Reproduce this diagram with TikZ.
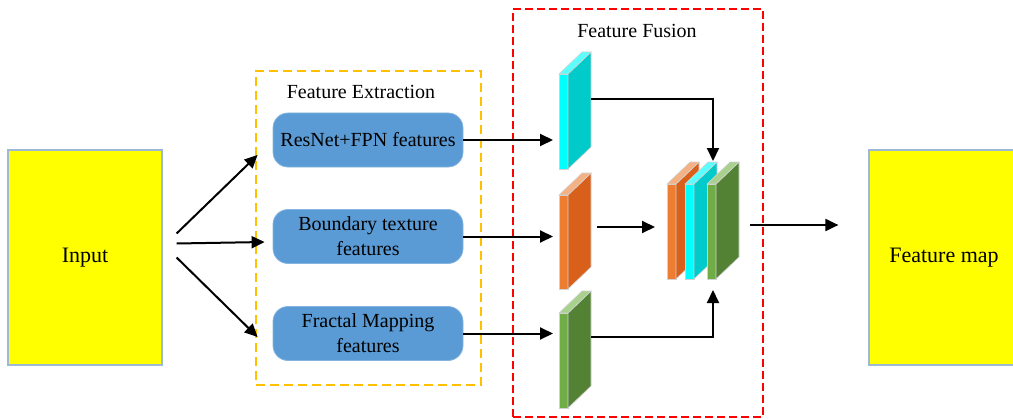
\documentclass[tikz,border=0pt]{standalone}
\usepackage{fontspec}
\setmainfont{Liberation Serif}
\usetikzlibrary{arrows.meta,calc}
\definecolor{boxblue}{HTML}{5B9BD5}
\definecolor{yel}{HTML}{FFFF00}
\definecolor{yelborder}{HTML}{9DB9D5}
\definecolor{feorange}{HTML}{FFC000}
\definecolor{cyanF}{HTML}{00FFFF}
\definecolor{cyanS}{HTML}{00CACA}
\definecolor{cyanT}{HTML}{5CFFFF}
\definecolor{orF}{HTML}{ED7D31}
\definecolor{orS}{HTML}{D9601A}
\definecolor{orT}{HTML}{F4B183}
\definecolor{grF}{HTML}{70AD47}
\definecolor{grS}{HTML}{548235}
\definecolor{grT}{HTML}{A9D18E}
\newcommand{\slab}[7]{%
  \node[slabf, fill=#5, minimum height=#4] (#1) at ({#2+4.5},{#3+#4/2}) {};
  \filldraw[slabe, fill=#6] (#1.north east) -- ++(23,-22) -- ++(0,#4) -- (#1.south east) -- cycle;
  \filldraw[slabe, fill=#7] (#1.north west) -- (#1.north east) -- ++(23,-22) -- ++(-9,0) -- cycle;
  \coordinate (#1r) at ($(#1.north east)+(23,-22)$);
}
\begin{document}
\begin{tikzpicture}[x=1pt,y=-1pt,
  bigbox/.style={rectangle, fill=yel, draw=yelborder, line width=1.2pt, minimum width=154pt, minimum height=215pt, inner sep=0pt, font=\fontsize{22}{26}\selectfont},
  featbox/.style={rectangle, rounded corners=15pt, fill=boxblue, draw=boxblue!75!white, line width=0.8pt, minimum width=190pt, minimum height=54pt, align=center, inner sep=0pt, font=\fontsize{20}{25}\selectfont},
  title/.style={font=\fontsize{20}{24}\selectfont, inner sep=0pt},
  slabf/.style={rectangle, draw=gray!35, line width=0.6pt, minimum width=9pt, inner sep=0pt, outer sep=0pt},
  slabe/.style={draw=gray!35, line width=0.6pt},
  arr/.style={draw=black, line width=2pt, -{Triangle[length=13pt,width=12pt]}},
  feframe/.style={rectangle, draw=feorange, line width=1.5pt, dash pattern=on 9pt off 5pt, inner sep=0pt},
  ffframe/.style={rectangle, draw=red, line width=1.1pt, dash pattern=on 8pt off 4pt, inner sep=0pt}
]
\clip (0,0) rectangle (1013,420);

% frames
\node[feframe, minimum width=225pt, minimum height=314pt] (fe) at (368.5,228) {};
\node[ffframe, minimum width=250pt, minimum height=408pt] (ff) at (638,213) {};
\node[title] (fet) at (361,92) {Feature Extraction};
\node[title] (fft) at (637,31) {Feature Fusion};

% input and output
\node[bigbox] (in) at (85,257.5) {Input};
\node[bigbox, minimum width=150pt] (fm) at (944,257.5) {Feature map};

% feature boxes
\node[featbox] (b1) at (368,140) {ResNet+FPN features};
\node[featbox] (b2) at (368,236.5) {Boundary texture\\features};
\node[featbox] (b3) at (368,333.5) {Fractal Mapping\\features};

% slabs
\slab{c1}{559}{74}{95}{cyanF}{cyanS}{cyanT}
\slab{c2}{559}{195}{94}{orF}{orS}{orT}
\slab{c3}{559}{313}{95}{grF}{grS}{grT}

\slab{f1}{667}{184}{95}{orF}{orS}{orT}
\slab{f2}{685}{184}{95}{cyanF}{cyanS}{cyanT}
\slab{f3}{707}{184}{95}{grF}{grS}{grT}

% input arrows
\draw[arr] ($(in.east)+(14,-24)$) -- ($(b1.west)+(-15,15)$);
\draw[arr] ($(in.east)+(14,-14)$) -- ($(b2.west)+(-8,5.5)$);
\draw[arr] ($(in.east)+(14,0)$) -- ($(b3.west)+(-15,3.5)$);

% boxes to slabs
\draw[arr] (b1.east) -- ($(c1.west |- b1.east)+(-6,0)$);
\draw[arr] (b2.east) -- ($(c2.west |- b2.east)+(-6,0)$);
\draw[arr] (b3.east) -- ($(c3.west |- b3.east)+(-6,0)$);

% fusion
\draw[arr] ($(c1r)+(0,47)$) -| ($(f3.north)+(1.5,-23)$);
\draw[arr] ($(c2r)+(6,54)$) -- ($(f1.west |- c2r)+(-12,54)$);
\draw[arr] ($(c3r)+(0,46)$) -| ($(f3.south)+(1.5,11)$);

% output
\draw[arr] ($(f3.east)+(34,-6.5)$) -- ($(fm.west |- f3.east)+(-30,-6.5)$);
\end{tikzpicture}
\end{document}
